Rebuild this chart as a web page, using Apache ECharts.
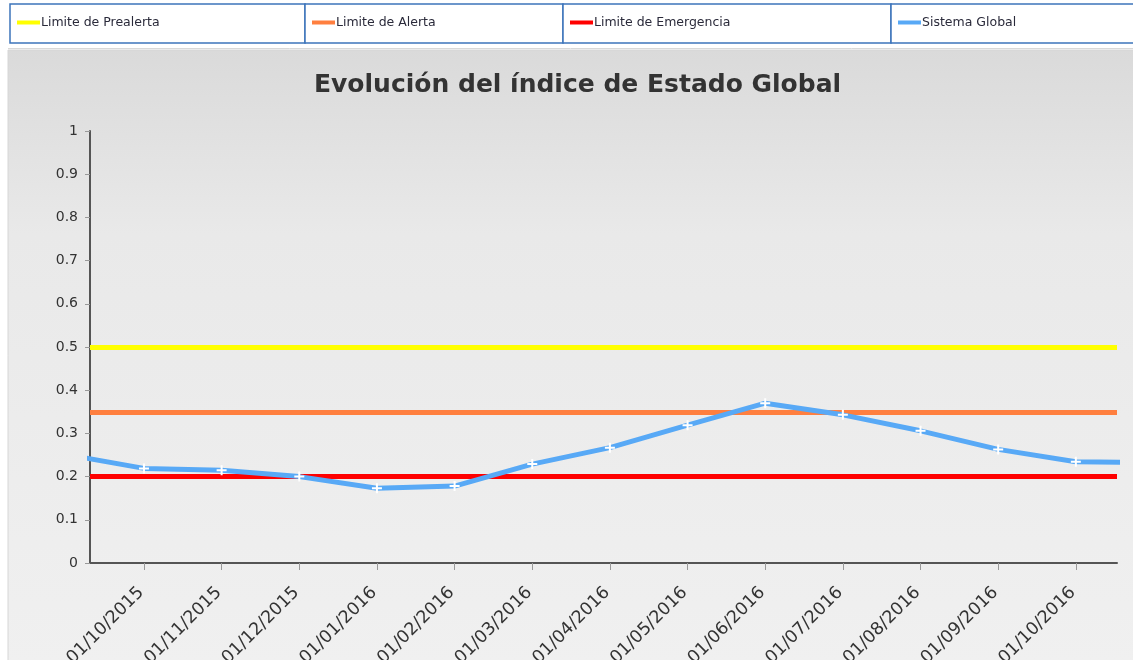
<!DOCTYPE html>
<html>
<head>
<meta charset="utf-8">
<script src="https://cdn.jsdelivr.net/npm/echarts@6/dist/echarts.min.js"></script>
<style>
html,body{margin:0;padding:0;background:#fff;}
#c{width:1133px;height:660px;}
</style>
</head>
<body>
<div id="c"></div>
<script>
// ---- data ----
const dateLabels = ['01/10/2015','01/11/2015','01/12/2015','01/01/2016','01/02/2016','01/03/2016','01/04/2016','01/05/2016','01/06/2016','01/07/2016','01/08/2016','01/09/2016','01/10/2016'];
// month before and after the labelled range (clipped at the plot edges)
const prevValue = 0.251;
const nextValue = 0.232;
const globalValues = [0.219,0.2145,0.200,0.173,0.178,0.229,0.267,0.319,0.370,0.343,0.306,0.263,0.2345];
const limitNames = ['Limite de Prealerta','Limite de Alerta','Limite de Emergencia'];
const limitValues = [0.5, 0.35, 0.2];
const limitColors = ['#ffff00','#ff7f3f','#ff0000'];
const seriesName = 'Sistema Global';
const seriesColor = '#58a9f6';

const FONT = 'DejaVu Sans';
const idx = dateLabels.map((d,i)=>i);
const lineData = [[-1, prevValue]].concat(globalValues.map((v,i)=>[i,v])).concat([[dateLabels.length, nextValue]]);

const chart = echarts.init(document.getElementById('c'), null, {renderer:'canvas'});

const legendCells = [
  {x:10, w:295},
  {x:305, w:258},
  {x:563, w:328},
  {x:891, w:250}
];
const legendNames = limitNames.concat([seriesName]);
const legendColors = limitColors.concat([seriesColor]);

const graphics = [
  {type:'rect', shape:{x:8, y:50, width:1130, height:615}, z:-10,
   style:{fill:new echarts.graphic.LinearGradient(0,0,0,1,[
     {offset:0,color:'#dadada'},{offset:0.3,color:'#e9e9e9'},{offset:1,color:'#f0f0f0'}]),
     stroke:'#d6d6d6', lineWidth:1}},
  {type:'line', shape:{x1:8,y1:48.5,x2:1133,y2:48.5}, style:{stroke:'#d8d8d8', lineWidth:1}}
];
legendCells.forEach(c=>{
  graphics.push({type:'rect', shape:{x:c.x, y:4, width:c.w, height:39}, z:-5,
    style:{fill:'#ffffff', stroke:'#3d74bb', lineWidth:1.5}});
});

const legends = legendNames.map((n,i)=>({
  data:[{name:n, itemStyle:{color:legendColors[i]}}],
  left: legendCells[i].x + 7,
  top: 16,
  icon:'rect',
  itemWidth:23, itemHeight:4, itemGap:0,
  padding:0,
  selectedMode:false,
  textStyle:{fontFamily:FONT, fontSize:12.5, color:'#2a2a3a', padding:[0,0,0,-4]}
}));

const plusPath = 'path://M4,0h2v4h4v2h-4v4h-2v-4h-4v-2h4z';

const series = limitNames.map((n,i)=>({
  name:n, type:'line', data:[], color:limitColors[i], z:2,
  markLine:{silent:true, symbol:['none','none'], animation:false,
    label:{show:false},
    lineStyle:{color:limitColors[i], width:5, type:'solid'},
    data:[{yAxis:limitValues[i]}]}
}));
series.push({
  name:seriesName, type:'line', data:lineData, z:5, clip:true,
  symbol:plusPath, symbolSize:10, showAllSymbol:true,
  lineStyle:{color:seriesColor, width:5},
  itemStyle:{color:'#ffffff'},
  animation:false
});

chart.setOption({
  animation:false,
  backgroundColor:'transparent',
  graphic:graphics,
  title:{text:'Evolución del índice de Estado Global', left:309, top:68,
    textStyle:{fontFamily:FONT, fontWeight:'bold', fontSize:25, color:'#333'}},
  legend:legends,
  grid:{left:90, right:16, top:131, bottom:97, containLabel:false, outerBoundsMode:'none'},
  xAxis:{type:'value', min:-0.695, max:12.53,
    axisLine:{show:true, onZero:false, lineStyle:{color:'#555', width:2}},
    axisTick:{show:true, customValues:idx, length:7, lineStyle:{color:'#999'}},
    axisLabel:{customValues:idx, rotate:45, margin:24, fontFamily:FONT, fontSize:17.5, color:'#333',
      padding:[0,4,0,0],
      formatter:v=>dateLabels[Math.round(v)]},
    splitLine:{show:false}},
  yAxis:{type:'value', min:0, max:1, interval:0.1,
    axisLine:{show:true, onZero:false, lineStyle:{color:'#555', width:2}},
    axisTick:{show:true, length:5, lineStyle:{color:'#999'}},
    axisLabel:{margin:12, fontFamily:FONT, fontSize:14, color:'#333',
      formatter:v=>String(Math.round(v*10)/10)},
    splitLine:{show:false}},
  series:series
});
</script>
</body>
</html>
